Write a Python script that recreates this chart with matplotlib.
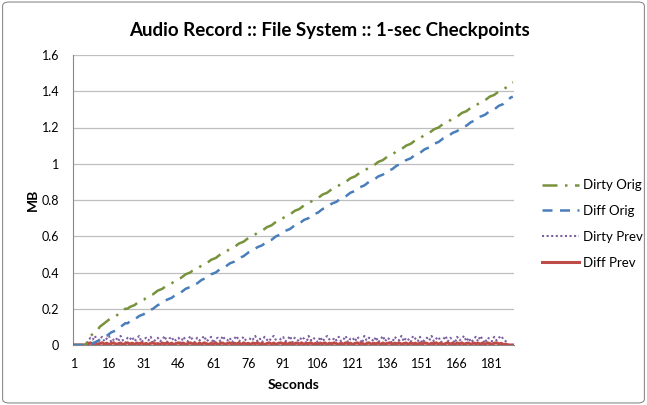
import numpy as np
import matplotlib
matplotlib.use('Agg')
import matplotlib.pyplot as plt
from matplotlib.patches import FancyBboxPatch

plt.rcParams['font.family'] = ['Lato', 'DejaVu Sans']

# data (MB per second, categories 1..190)
dirty_orig = [0, 0, 0, 0, 0, 0,
              0.03, 0.05, 0.06, 0.07, 0.08, 0.10, 0.11, 0.12, 0.13,
              0.14, 0.15, 0.155, 0.16, 0.17, 0.18, 0.19, 0.20, 0.20, 0.21,
              0.215, 0.22, 0.23, 0.24, 0.245, 0.25, 0.26, 0.27, 0.275, 0.28,
              0.29, 0.30, 0.305, 0.31, 0.32, 0.33, 0.335, 0.34, 0.35, 0.36,
              0.365, 0.37, 0.38, 0.39, 0.395, 0.40, 0.41, 0.415, 0.42, 0.43,
              0.44, 0.445, 0.45, 0.46, 0.47, 0.475, 0.48, 0.49, 0.50, 0.505,
              0.51, 0.52, 0.53, 0.535, 0.54, 0.55, 0.56, 0.565, 0.57, 0.58,
              0.59, 0.595, 0.60, 0.61, 0.62, 0.625, 0.63, 0.64, 0.65, 0.655,
              0.66, 0.67, 0.68, 0.685, 0.69, 0.70, 0.71, 0.715, 0.72, 0.73,
              0.74, 0.745, 0.75, 0.76, 0.77, 0.775, 0.78, 0.79, 0.80, 0.805,
              0.81, 0.82, 0.83, 0.835, 0.84, 0.85, 0.86, 0.865, 0.87, 0.88,
              0.89, 0.895, 0.90, 0.91, 0.92, 0.925, 0.93, 0.94, 0.95, 0.955,
              0.96, 0.97, 0.98, 0.985, 0.99, 1.00, 1.01, 1.015, 1.02, 1.03,
              1.04, 1.045, 1.05, 1.06, 1.07, 1.075, 1.08, 1.09, 1.10, 1.105,
              1.11, 1.12, 1.13, 1.135, 1.14, 1.15, 1.16, 1.165, 1.17, 1.18,
              1.19, 1.195, 1.20, 1.21, 1.22, 1.225, 1.23, 1.24, 1.25, 1.255,
              1.26, 1.27, 1.28, 1.285, 1.29, 1.30, 1.31, 1.315, 1.32, 1.33,
              1.34, 1.345, 1.35, 1.36, 1.37, 1.375, 1.38, 1.39, 1.40, 1.405,
              1.41, 1.42, 1.43, 1.445, 1.45]

diff_orig = [0, 0, 0, 0, 0, 0, 0, 0,
             0.01, 0.015, 0.02, 0.03, 0.04, 0.045, 0.05,
             0.06, 0.07, 0.075, 0.08, 0.09, 0.10, 0.11, 0.12, 0.12, 0.13,
             0.135, 0.14, 0.15, 0.16, 0.165, 0.17, 0.18, 0.19, 0.195, 0.20,
             0.21, 0.22, 0.225, 0.23, 0.24, 0.25, 0.255, 0.26, 0.27, 0.28,
             0.285, 0.29, 0.30, 0.31, 0.315, 0.32, 0.33, 0.335, 0.34, 0.35,
             0.36, 0.365, 0.37, 0.38, 0.39, 0.395, 0.40, 0.41, 0.42, 0.425,
             0.43, 0.44, 0.45, 0.455, 0.46, 0.47, 0.48, 0.485, 0.49, 0.50,
             0.51, 0.515, 0.52, 0.53, 0.54, 0.545, 0.55, 0.56, 0.57, 0.575,
             0.58, 0.59, 0.60, 0.605, 0.61, 0.62, 0.63, 0.635, 0.64, 0.65,
             0.66, 0.665, 0.67, 0.68, 0.69, 0.695, 0.70, 0.71, 0.72, 0.725,
             0.73, 0.74, 0.75, 0.755, 0.76, 0.77, 0.78, 0.785, 0.79, 0.80,
             0.81, 0.815, 0.82, 0.83, 0.84, 0.845, 0.85, 0.86, 0.87, 0.875,
             0.88, 0.89, 0.90, 0.905, 0.91, 0.92, 0.93, 0.935, 0.94, 0.95,
             0.96, 0.965, 0.97, 0.98, 0.99, 0.995, 1.00, 1.01, 1.02, 1.025,
             1.03, 1.04, 1.05, 1.055, 1.06, 1.07, 1.08, 1.085, 1.09, 1.10,
             1.11, 1.115, 1.12, 1.13, 1.14, 1.145, 1.15, 1.16, 1.17, 1.175,
             1.18, 1.19, 1.20, 1.205, 1.21, 1.22, 1.23, 1.235, 1.24, 1.25,
             1.26, 1.265, 1.27, 1.28, 1.29, 1.295, 1.30, 1.31, 1.32, 1.325,
             1.33, 1.34, 1.35, 1.365, 1.37]

dirty_prev = [0, 0, 0, 0, 0, 0,
              0.02, 0.04, 0.03, 0.05, 0.01, 0.03, 0.045, 0.02, 0.035, 0.05,
              0.015, 0.03, 0.04, 0.02, 0.05, 0.025, 0.01, 0.04, 0.03, 0.045,
              0.02, 0.035, 0.05, 0.015, 0.03, 0.04, 0.025, 0.045, 0.01, 0.03,
              0.04, 0.02, 0.03, 0.05, 0.015, 0.035, 0.045, 0.02, 0.03, 0.04,
              0.01, 0.045, 0.03, 0.02, 0.05, 0.03, 0.015, 0.04, 0.025, 0.035,
              0.05, 0.02, 0.03, 0.045, 0.01, 0.035, 0.04, 0.02, 0.05, 0.03,
              0.025, 0.04, 0.015, 0.035, 0.05, 0.02, 0.03, 0.045, 0.025, 0.01,
              0.04, 0.03, 0.05, 0.02, 0.035, 0.015, 0.045, 0.03, 0.02, 0.04,
              0.05, 0.025, 0.01, 0.035, 0.045, 0.02, 0.03, 0.05, 0.015, 0.04,
              0.03, 0.02, 0.045, 0.035, 0.01, 0.05, 0.025, 0.04, 0.03, 0.015,
              0.045, 0.02, 0.035, 0.05, 0.03, 0.01, 0.04, 0.025, 0.045, 0.02,
              0.03, 0.05, 0.015, 0.035, 0.04, 0.02, 0.045, 0.03, 0.01, 0.05,
              0.025, 0.04, 0.035, 0.02, 0.045, 0.015, 0.03, 0.05, 0.02, 0.04,
              0.03, 0.01, 0.045, 0.035, 0.025, 0.05, 0.02, 0.04, 0.03, 0.015,
              0.05, 0.035, 0.02, 0.045, 0.01, 0.03, 0.04, 0.025, 0.05, 0.02,
              0.035, 0.045, 0.015, 0.03, 0.05, 0.02, 0.04, 0.03, 0.01, 0.045,
              0.025, 0.035, 0.05, 0.02, 0.04, 0.015, 0.03, 0.045, 0.02, 0.05,
              0.03, 0.01, 0.04, 0.035, 0.02, 0.045, 0.025, 0.04, 0.05, 0.03,
              0.02,
              0, 0, 0]

diff_prev = [0, 0, 0, 0, 0, 0,
             0.006, 0.012, 0.004, 0.01, 0.002, 0.008, 0.012, 0.005, 0.01, 0.003,
             0.009, 0.012, 0.004, 0.007, 0.011, 0.002, 0.008, 0.012, 0.005, 0.01,
             0.003, 0.011, 0.006, 0.012, 0.004, 0.009, 0.002, 0.01, 0.012, 0.005,
             0.008, 0.003, 0.011, 0.006, 0.012, 0.004, 0.01, 0.002, 0.009, 0.012,
             0.005, 0.011, 0.003, 0.008, 0.012, 0.006, 0.01, 0.002, 0.011, 0.004,
             0.012, 0.007, 0.003, 0.01, 0.005, 0.012, 0.002, 0.009, 0.011, 0.004,
             0.008, 0.012, 0.003, 0.01, 0.006, 0.011, 0.002, 0.012, 0.005, 0.009,
             0.003, 0.011, 0.007, 0.012, 0.004, 0.01, 0.002, 0.008, 0.012, 0.005,
             0.011, 0.003, 0.009, 0.012, 0.006, 0.01, 0.004, 0.012, 0.002, 0.008,
             0.011, 0.005, 0.012, 0.003, 0.01, 0.007, 0.012, 0.004, 0.009, 0.002,
             0.011, 0.006, 0.012, 0.003, 0.01, 0.005, 0.012, 0.008, 0.002, 0.011,
             0.004, 0.012, 0.007, 0.01, 0.003, 0.009, 0.012, 0.005, 0.011, 0.002,
             0.008, 0.012, 0.004, 0.01, 0.006, 0.012, 0.003, 0.011, 0.005, 0.009,
             0.012, 0.002, 0.01, 0.007, 0.012, 0.004, 0.008, 0.011, 0.003, 0.012,
             0.006, 0.01, 0.002, 0.011, 0.005, 0.012, 0.009, 0.003, 0.01, 0.007,
             0.012, 0.004, 0.011, 0.002, 0.008, 0.012, 0.005, 0.01, 0.003, 0.011,
             0.006, 0.012, 0.004, 0.009, 0.011, 0.002, 0.012, 0.007, 0.01, 0.005,
             0.011, 0.003, 0.012, 0.008, 0.004, 0.01, 0.012, 0.006, 0.009, 0.003,
             0.005,
             0, 0, 0]

x_ticks = [1, 16, 31, 46, 61, 76, 91, 106, 121, 136, 151, 166, 181]
y_ticks = [0, 0.2, 0.4, 0.6, 0.8, 1.0, 1.2, 1.4, 1.6]
y_labels = ['0', '0.2', '0.4', '0.6', '0.8', '1', '1.2', '1.4', '1.6']

fig = plt.figure(figsize=(6.47, 4.05), dpi=100)
ax = fig.add_axes([73/647, 1-345/405, 441/647, 290/405])

def xs(v):
    return np.arange(1, len(v)+1)

ax.plot(xs(dirty_orig), dirty_orig, c='#77933C', lw=1.8, ls=(0, (6, 3, 1, 3)), label='Dirty Orig', zorder=4)
ax.plot(xs(diff_orig), diff_orig, c='#4A7EBB', lw=1.8, ls=(0, (4, 3)), label='Diff Orig', zorder=4)
ax.plot(xs(dirty_prev), dirty_prev, c='#7D60A0', lw=1.5, ls=(0, (1, 1.2)), label='Dirty Prev', zorder=3)
ax.plot(xs(diff_prev), diff_prev, c='#BE4B48', lw=2.2, ls='-', label='Diff Prev', zorder=3)

ax.set_xlim(0.5, 190.5)
ax.set_ylim(0, 1.6)
ax.set_yticks(y_ticks)
ax.set_yticklabels(y_labels)
ax.set_xticks(x_ticks)
ax.set_xticklabels([str(t) for t in x_ticks])
ax.grid(axis='y', color='#BEBEBE', lw=0.9)
ax.set_axisbelow(True)
for s in ['top', 'right']:
    ax.spines[s].set_visible(False)
ax.spines['left'].set_color('#888888')
ax.spines['bottom'].set_color('#888888')
ax.tick_params(axis='both', length=0, labelsize=9, pad=9)
ax.tick_params(axis='y', pad=10)

ax.set_ylabel('MB', fontsize=10, weight='bold', labelpad=2)
ax.set_xlabel('Seconds', fontsize=10, weight='bold', labelpad=7)
fig.text(0.51, 0.925, 'Audio Record :: File System :: 1-sec Checkpoints', ha='center', va='center',
         fontsize=13.5, weight='bold')

fig.legend(loc='center left', bbox_to_anchor=(530/647, 1-224/405), frameon=False, fontsize=9.5,
           handlelength=2.8, handletextpad=0.3, labelspacing=1.05)

fig.patches.append(FancyBboxPatch((0.004, 0.005), 0.992, 0.99, boxstyle='round,pad=0,rounding_size=0.01',
                                  transform=fig.transFigure, fill=False, ec='#8C8C8C', lw=0.8))

fig.savefig('out.png', dpi=100)
